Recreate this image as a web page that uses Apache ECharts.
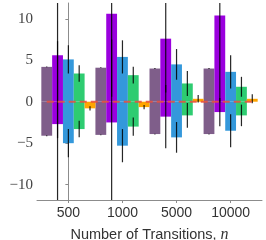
<!DOCTYPE html>
<html><head><meta charset="utf-8">
<script src="https://cdn.jsdelivr.net/npm/echarts@6/dist/echarts.min.js"></script>
<style>html,body{margin:0;padding:0;background:#fff}#c{width:266px;height:240px}</style>
</head><body><div id="c"></div>
<script>
const categories = ['500', '1000', '5000', '10000'];
const seriesNames = ['A', 'B', 'C', 'D', 'E'];
const seriesColors = ['#7f5e8a', '#9a00de', '#3498db', '#2ecc71', '#ffa500'];
const posA = [4.2, 4.1, 4.0, 4.0];
const posB = [5.6, 10.6, 7.6, 10.4];
const posC = [5.1, 5.4, 4.5, 3.6];
const posD = [3.4, 3.2, 2.2, 1.8];
const posE = [0, 0, 0.35, 0.35];
const posErrA = [0.05, 0.05, 0.05, 0.05];
const posErrB = [10, 10, 6.5, 10.5];
const posErrC = [1.7, 2.0, 1.85, 2.0];
const posErrD = [1.0, 1.0, 1.5, 1.2];
const posErrE = [0, 0, 0.45, 0.55];
const negA = [-4.1, -4.0, -3.9, -3.9];
const negB = [-2.7, -2.5, -1.8, -1.25];
const negC = [-5.0, -5.3, -4.3, -3.5];
const negD = [-3.3, -3.0, -1.65, -1.65];
const negE = [-0.8, -0.65, 0, 0];
const negErrA = [0.05, 0.05, 0.05, 0.05];
const negErrB = [10, 10, 3.8, 1.7];
const negErrC = [1.7, 2.0, 1.85, 2.0];
const negErrD = [1.0, 1.1, 1.5, 1.3];
const negErrE = [0.25, 0.25, 0, 0];
const yTicks = [-10, -5, 0, 5, 10];
const refLineY = 0;

const pos = [posA, posB, posC, posD, posE];
const posErr = [posErrA, posErrB, posErrC, posErrD, posErrE];
const neg = [negA, negB, negC, negD, negE];
const negErr = [negErrA, negErrB, negErrC, negErrD, negErrE];
const barFrac = 0.2;
const xMin = -0.58, xMax = categories.length - 1 + 0.58;

const chart = echarts.init(document.getElementById('c'), null, {renderer: 'canvas'});
const gridLeft = 37, gridRight = 4;
const pxPerUnit = (266 - gridLeft - gridRight) / (xMax - xMin);

const series = [];
seriesNames.forEach((name, s) => {
  const off = (s - (seriesNames.length - 1) / 2) * barFrac;
  const data = [];
  categories.forEach((c, i) => { data.push([i + off, pos[s][i]]); data.push([i + off, neg[s][i]]); });
  series.push({
    name, type: 'bar', data, barWidth: barFrac * pxPerUnit, barGap: '-100%',
    itemStyle: {color: seriesColors[s]},
    z: 2, animation: false
  });
});
const errData = [];
seriesNames.forEach((name, s) => {
  const off = (s - (seriesNames.length - 1) / 2) * barFrac;
  categories.forEach((c, i) => {
    if (posErr[s][i] > 0) errData.push([i + off, pos[s][i] - posErr[s][i], pos[s][i] + posErr[s][i]]);
    if (negErr[s][i] > 0) errData.push([i + off, neg[s][i] - negErr[s][i], neg[s][i] + negErr[s][i]]);
  });
});
series.push({
  type: 'custom', data: errData, clip: true, z: 3, animation: false,
  encode: {x: 0, y: [1, 2]},
  renderItem: (params, api) => {
    const a = api.coord([api.value(0), api.value(1)]);
    const b = api.coord([api.value(0), api.value(2)]);
    return {type: 'line', shape: {x1: a[0], y1: a[1], x2: b[0], y2: b[1]},
      style: {stroke: 'rgba(0,0,0,0.85)', lineWidth: 1.2}};
  }
});
series.push({
  type: 'line', data: [[-0.4, refLineY], [categories.length - 1 + 0.4, refLineY]],
  symbol: 'none', z: 5, animation: false,
  lineStyle: {color: 'rgba(231,76,60,0.85)', width: 2, type: [7, 4]}
});

chart.setOption({
  backgroundColor: '#fff',
  animation: false,
  grid: {left: gridLeft, right: gridRight, top: 3, bottom: 40, containLabel: false, outerBoundsMode: 'none'},
  xAxis: {
    type: 'value', min: xMin, max: xMax,
    splitLine: {show: false},
    axisLine: {show: true, onZero: false, lineStyle: {color: '#8c8c8c', width: 1}},
    axisTick: {show: true, customValues: categories.map((c, i) => i), length: 3, lineStyle: {color: '#8c8c8c'}},
    axisLabel: {customValues: categories.map((c, i) => i), formatter: v => categories[Math.round(v)],
      color: '#333', fontFamily: 'Liberation Sans', fontSize: 14, margin: 6},
    name: '{t|Number of Transitions, }{n|n}', nameLocation: 'middle', nameGap: 27,
    nameTextStyle: {rich: {
      t: {fontFamily: 'Liberation Sans', fontSize: 14.5, color: '#333'},
      n: {fontFamily: 'Liberation Serif', fontStyle: 'italic', fontSize: 16, color: '#333'}
    }}
  },
  yAxis: {
    type: 'value', min: -11.85, max: 11.9,
    splitLine: {show: false},
    axisLine: {show: true, lineStyle: {color: '#8c8c8c', width: 1}},
    axisTick: {show: true, customValues: yTicks, length: 3, lineStyle: {color: '#8c8c8c'}},
    axisLabel: {customValues: yTicks, formatter: v => String(v).replace('-', '\u2212'),
      color: '#444', fontFamily: 'Liberation Serif', fontSize: 15, margin: 4}
  },
  series
});
</script></body></html>
